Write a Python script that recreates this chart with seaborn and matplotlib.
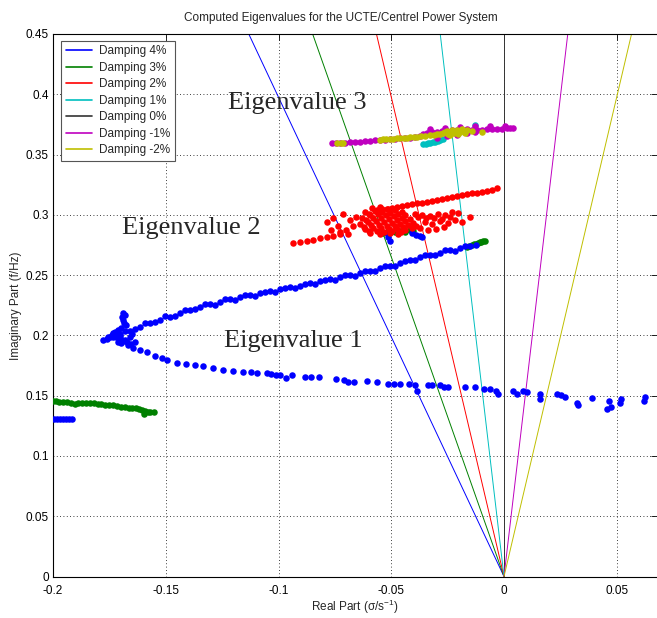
import matplotlib
matplotlib.use("Agg")
import numpy as np
import pandas as pd
import matplotlib.pyplot as plt
import seaborn as sns
from matplotlib.lines import Line2D

# ---------------- data ----------------
damping_pct = [4, 3, 2, 1, 0, -1, -2]
damping_labels = ["Damping %d%%" % d for d in damping_pct]
damping_colors = ["#0000ff", "#008000", "#ff0000", "#00bfbf", "#333333", "#bf00bf", "#bfbf00"]

# Eigenvalue 1 (blue trace)
blue_upper = [(-0.0125, 0.2750), (-0.0151, 0.2740), (-0.0195, 0.2722), (-0.0239, 0.2708), (-0.0284, 0.2685),
              (-0.0328, 0.2666), (-0.0373, 0.2647), (-0.0417, 0.2624), (-0.0461, 0.2597), (-0.0506, 0.2575),
              (-0.0550, 0.2556), (-0.0594, 0.2536), (-0.0639, 0.2514), (-0.0683, 0.2500), (-0.0727, 0.2481),
              (-0.0772, 0.2467), (-0.0816, 0.2450), (-0.0860, 0.2431), (-0.0905, 0.2409), (-0.0949, 0.2398),
              (-0.0993, 0.2381), (-0.1038, 0.2367), (-0.1082, 0.2348), (-0.1126, 0.2334), (-0.1171, 0.2320),
              (-0.1215, 0.2299), (-0.1259, 0.2279), (-0.1304, 0.2260), (-0.1348, 0.2237), (-0.1392, 0.2210),
              (-0.1437, 0.2187), (-0.1481, 0.2154), (-0.1525, 0.2127), (-0.1570, 0.2100), (-0.1614, 0.2071),
              (-0.1659, 0.2038), (-0.1703, 0.2011), (-0.1734, 0.1988),
              (-0.0173, 0.2742), (-0.0217, 0.2702), (-0.0262, 0.2705), (-0.0306, 0.2668), (-0.0350, 0.2663),
              (-0.0395, 0.2628), (-0.0439, 0.2620), (-0.0483, 0.2578), (-0.0528, 0.2572), (-0.0572, 0.2535),
              (-0.0616, 0.2533), (-0.0661, 0.2496), (-0.0705, 0.2497), (-0.0750, 0.2459), (-0.0794, 0.2462),
              (-0.0838, 0.2424), (-0.0882, 0.2428), (-0.0927, 0.2389), (-0.0971, 0.2396), (-0.1015, 0.2361),
              (-0.1060, 0.2364), (-0.1104, 0.2327), (-0.1148, 0.2336), (-0.1193, 0.2295), (-0.1237, 0.2302),
              (-0.1281, 0.2254), (-0.1326, 0.2263), (-0.1370, 0.2215), (-0.1414, 0.2213), (-0.1459, 0.2164),
              (-0.1503, 0.2158), (-0.1548, 0.2108), (-0.1592, 0.2104), (-0.1636, 0.2050), (-0.1681, 0.2036)]
blue_nose = [(-0.1778, 0.1961), (-0.1756, 0.1986), (-0.1734, 0.2019), (-0.1712, 0.2044), (-0.1690, 0.2127),
             (-0.1681, 0.2168), (-0.1690, 0.2182), (-0.1676, 0.2085), (-0.1703, 0.1994), (-0.1681, 0.1961),
             (-0.1659, 0.1986), (-0.1668, 0.1920), (-0.1636, 0.1945), (-0.1645, 0.1895), (-0.1614, 0.1878),
             (-0.1583, 0.1862), (-0.1548, 0.1828), (-0.1517, 0.1811), (-0.1495, 0.1794), (-0.1721, 0.1985),
             (-0.1712, 0.1947), (-0.1698, 0.1936), (-0.1725, 0.2027), (-0.1747, 0.1985), (-0.1700, 0.2060),
             (-0.1650, 0.2010), (-0.1760, 0.1970), (-0.1740, 0.2000), (-0.1720, 0.2010), (-0.1705, 0.1975),
             (-0.1690, 0.1955), (-0.1670, 0.1945), (-0.1655, 0.1925), (-0.1685, 0.2100), (-0.1695, 0.2150)]
blue_lower = [(-0.1452, 0.1768), (-0.1408, 0.1760), (-0.1370, 0.1754), (-0.1335, 0.1745), (-0.1290, 0.1729),
              (-0.1246, 0.1712), (-0.1202, 0.1706), (-0.1157, 0.1700), (-0.1123, 0.1696), (-0.1095, 0.1687),
              (-0.1051, 0.1687), (-0.1034, 0.1681), (-0.1009, 0.1674), (-0.0993, 0.1674), (-0.0967, 0.1648),
              (-0.0940, 0.1668), (-0.0882, 0.1654), (-0.0856, 0.1654), (-0.0820, 0.1654), (-0.0745, 0.1642),
              (-0.0710, 0.1633), (-0.0693, 0.1617), (-0.0667, 0.1617), (-0.0608, 0.1623), (-0.0565, 0.1617),
              (-0.0514, 0.1600), (-0.0489, 0.1600), (-0.0463, 0.1600), (-0.0421, 0.1596), (-0.0395, 0.1591),
              (-0.0386, 0.1538), (-0.0335, 0.1588), (-0.0319, 0.1588), (-0.0284, 0.1588), (-0.0266, 0.1571),
              (-0.0250, 0.1571), (-0.0173, 0.1571), (-0.0130, 0.1571), (-0.0089, 0.1555), (-0.0062, 0.1555),
              (-0.0036, 0.1538), (-0.0028, 0.1515), (0.0040, 0.1538), (0.0058, 0.1515), (0.0083, 0.1538),
              (0.0100, 0.1527), (0.0160, 0.1515), (0.0160, 0.1473), (0.0235, 0.1515), (0.0253, 0.1505),
              (0.0271, 0.1488), (0.0322, 0.1441), (0.0330, 0.1425), (0.0390, 0.1483), (0.0457, 0.1393),
              (0.0475, 0.1410), (0.0466, 0.1457), (0.0518, 0.1473), (0.0514, 0.1441), (0.0625, 0.1488),
              (0.0620, 0.1455)]
blue_other = [(-0.1996, 0.131), (-0.1982, 0.131), (-0.1969, 0.131), (-0.1956, 0.131), (-0.1942, 0.131),
              (-0.1929, 0.131), (-0.1916, 0.131),
              (-0.0519, 0.2848), (-0.0514, 0.2815), (-0.0506, 0.2782), (-0.0408, 0.2848), (-0.0390, 0.2832),
              (-0.0373, 0.2823), (-0.0364, 0.2815)]

green_pts = [(-0.0164, 0.2736), (-0.0142, 0.2749), (-0.0124, 0.2761), (-0.0106, 0.2774), (-0.0093, 0.2782),
             (-0.0153, 0.2742), (-0.0133, 0.2755), (-0.0115, 0.2768), (-0.0100, 0.2778), (-0.0085, 0.2786),
             (-0.0537, 0.2848), (-0.0514, 0.2865), (-0.0483, 0.2857), (-0.0461, 0.2865), (-0.0439, 0.2857),
             (-0.0417, 0.2873), (-0.0404, 0.2865),
             (-0.1998, 0.1458), (-0.1973, 0.1449), (-0.1938, 0.1449), (-0.1904, 0.1435), (-0.1870, 0.1442),
             (-0.1836, 0.1442), (-0.1802, 0.1432), (-0.1768, 0.1426), (-0.1734, 0.1420), (-0.1699, 0.1410),
             (-0.1665, 0.1400), (-0.1632, 0.1394), (-0.1605, 0.1378), (-0.1597, 0.1347), (-0.1580, 0.1364),
             (-0.1554, 0.1364), (-0.1985, 0.1453), (-0.1955, 0.1449), (-0.1921, 0.1442), (-0.1887, 0.1438),
             (-0.1853, 0.1442), (-0.1819, 0.1437), (-0.1785, 0.1429), (-0.1751, 0.1423), (-0.1716, 0.1415),
             (-0.1682, 0.1405), (-0.1648, 0.1397), (-0.1618, 0.1386), (-0.1590, 0.1370), (-0.1570, 0.1362)]

# Eigenvalue 2 (red)
red_pts = [(-0.0934, 0.2763), (-0.0905, 0.2771), (-0.0875, 0.2782), (-0.0846, 0.2790), (-0.0816, 0.2804),
           (-0.0786, 0.2813), (-0.0757, 0.2823), (-0.0727, 0.2840),
           (-0.0032, 0.3219), (-0.0077, 0.3199), (-0.0121, 0.3182), (-0.0165, 0.3172), (-0.0210, 0.3155),
           (-0.0254, 0.3136), (-0.0298, 0.3122), (-0.0343, 0.3108), (-0.0387, 0.3095), (-0.0431, 0.3081),
           (-0.0476, 0.3066), (-0.0520, 0.3051), (-0.0565, 0.3039),
           (-0.0055, 0.3208), (-0.0099, 0.3190), (-0.0143, 0.3177), (-0.0187, 0.3163), (-0.0232, 0.3145),
           (-0.0276, 0.3129), (-0.0320, 0.3115), (-0.0365, 0.3101), (-0.0409, 0.3088), (-0.0453, 0.3073),
           (-0.0498, 0.3058), (-0.0542, 0.3045),
           (-0.0616, 0.3022), (-0.0585, 0.3056), (-0.0550, 0.3064), (-0.0514, 0.3047), (-0.0483, 0.3039),
           (-0.0452, 0.3022),
           (-0.0630, 0.2973), (-0.0594, 0.2998), (-0.0559, 0.3006), (-0.0523, 0.2998), (-0.0488, 0.2989),
           (-0.0452, 0.2973), (-0.0417, 0.2965),
           (-0.0639, 0.2923), (-0.0603, 0.2940), (-0.0568, 0.2948), (-0.0532, 0.2940), (-0.0497, 0.2932),
           (-0.0461, 0.2923), (-0.0426, 0.2915), (-0.0390, 0.2907),
           (-0.0616, 0.2882), (-0.0581, 0.2890), (-0.0545, 0.2890), (-0.0510, 0.2882), (-0.0475, 0.2882),
           (-0.0439, 0.2873),
           (-0.0594, 0.2848), (-0.0550, 0.2840), (-0.0506, 0.2848), (-0.0470, 0.2840),
           (-0.0600, 0.3010), (-0.0570, 0.3030), (-0.0540, 0.3020), (-0.0505, 0.3015), (-0.0470, 0.3005),
           (-0.0440, 0.3000), (-0.0610, 0.2955), (-0.0580, 0.2970), (-0.0545, 0.2975), (-0.0510, 0.2965),
           (-0.0475, 0.2955), (-0.0440, 0.2945), (-0.0405, 0.2935), (-0.0620, 0.2900), (-0.0590, 0.2915),
           (-0.0555, 0.2918), (-0.0520, 0.2910), (-0.0485, 0.2905), (-0.0450, 0.2898), (-0.0410, 0.2890),
           (-0.0600, 0.2865), (-0.0565, 0.2865), (-0.0530, 0.2860), (-0.0495, 0.2862), (-0.0455, 0.2858),
           (-0.0785, 0.2940), (-0.0758, 0.2973), (-0.0736, 0.2907), (-0.0714, 0.3006), (-0.0701, 0.2873),
           (-0.0683, 0.2957), (-0.0670, 0.2907), (-0.0656, 0.2981), (-0.0767, 0.2873), (-0.0727, 0.2857),
           (-0.0692, 0.2840),
           (-0.0395, 0.3006), (-0.0364, 0.2998), (-0.0328, 0.2989), (-0.0293, 0.3006), (-0.0262, 0.2998),
           (-0.0231, 0.3022), (-0.0204, 0.3014), (-0.0350, 0.2940), (-0.0319, 0.2923), (-0.0284, 0.2948),
           (-0.0248, 0.2932), (-0.0217, 0.2957), (-0.0186, 0.2940), (-0.0373, 0.2890), (-0.0337, 0.2873),
           (-0.0302, 0.2882), (-0.0266, 0.2898), (-0.0151, 0.2981),
           (-0.0380, 0.2980), (-0.0345, 0.2970), (-0.0310, 0.2975), (-0.0275, 0.2965), (-0.0240, 0.2980)]

# Eigenvalue 3
magenta_pts = [(-0.0764, 0.3592), (-0.0727, 0.3597), (-0.0683, 0.3603), (-0.0639, 0.3605), (-0.0594, 0.3614),
               (-0.0550, 0.3619), (-0.0506, 0.3625), (-0.0461, 0.3634), (-0.0417, 0.3638), (-0.0373, 0.3653),
               (-0.0343, 0.3680), (-0.0298, 0.3688), (-0.0254, 0.3697), (-0.0210, 0.3702), (-0.0165, 0.3708),
               (-0.0121, 0.3702), (-0.0077, 0.3708), (-0.0032, 0.3713), (0.0012, 0.3719), (0.0041, 0.3721),
               (-0.0297, 0.3636), (-0.0253, 0.3653), (-0.0208, 0.3661), (-0.0164, 0.3678), (-0.0129, 0.3686),
               (-0.0328, 0.3715), (-0.0262, 0.3723), (-0.0195, 0.3731), (-0.0129, 0.3736), (-0.0062, 0.3740),
               (0.0004, 0.3740), (-0.0745, 0.3594), (-0.0705, 0.3600), (-0.0661, 0.3604), (-0.0616, 0.3610),
               (-0.0572, 0.3617), (-0.0528, 0.3622), (-0.0483, 0.3630), (-0.0439, 0.3636), (-0.0395, 0.3646),
               (-0.0358, 0.3668), (-0.0320, 0.3684), (-0.0276, 0.3692), (-0.0232, 0.3700), (-0.0187, 0.3705),
               (-0.0143, 0.3705), (-0.0099, 0.3705), (-0.0055, 0.3710), (-0.0010, 0.3716), (0.0025, 0.3720)]
cyan_pts = [(-0.0359, 0.3586), (-0.0337, 0.3595), (-0.0315, 0.3603), (-0.0293, 0.3611), (-0.0271, 0.3628),
            (-0.0348, 0.3590), (-0.0326, 0.3599), (-0.0304, 0.3607), (-0.0282, 0.3620), (-0.0129, 0.3744)]
yellow_pts = [(-0.0742, 0.3597), (-0.0713, 0.3597), (-0.0550, 0.3624), (-0.0523, 0.3628), (-0.0492, 0.3632),
              (-0.0461, 0.3636), (-0.0430, 0.3640), (-0.0399, 0.3644), (-0.0368, 0.3653), (-0.0328, 0.3661),
              (-0.0297, 0.3669), (-0.0271, 0.3678), (-0.0253, 0.3694), (-0.0231, 0.3702), (-0.0208, 0.3702),
              (-0.0186, 0.3711), (-0.0164, 0.3702), (-0.0142, 0.3694), (-0.0239, 0.3661), (-0.0204, 0.3669),
              (-0.0173, 0.3678), (-0.0099, 0.3688), (-0.0725, 0.3597), (-0.0535, 0.3626), (-0.0505, 0.3630),
              (-0.0475, 0.3634), (-0.0445, 0.3638), (-0.0415, 0.3642), (-0.0385, 0.3648), (-0.0350, 0.3657),
              (-0.0312, 0.3665), (-0.0285, 0.3673), (-0.0262, 0.3686), (-0.0220, 0.3690), (-0.0195, 0.3690),
              (-0.0175, 0.3695), (-0.0250, 0.3670), (-0.0220, 0.3675)]

x_ticks = [-0.2, -0.15, -0.1, -0.05, 0, 0.05]
x_ticklabels = ["-0.2", "-0.15", "-0.1", "-0.05", "0", "0.05"]
y_ticks = [0, 0.05, 0.1, 0.15, 0.2, 0.25, 0.3, 0.35, 0.4, 0.45]
y_ticklabels = ["0", "0.05", "0.1", "0.15", "0.2", "0.25", "0.3", "0.35", "0.4", "0.45"]

# ---------------- style ----------------
sns.set_theme(style="white")
plt.rcParams["font.family"] = ["Liberation Sans Narrow", "Liberation Sans", "DejaVu Sans"]
plt.rcParams["mathtext.fontset"] = "custom"
plt.rcParams["mathtext.rm"] = "Liberation Sans"
plt.rcParams["mathtext.it"] = "Liberation Sans"

fig = plt.figure(figsize=(6.57, 6.18), dpi=100)
fig.patch.set_facecolor("white")
ax = fig.add_axes([53 / 657, 41.5 / 618, 604 / 657, 542.5 / 618])
ax.set_facecolor("white")

# damping lines (constant damping ratio through origin: sigma = -zeta/sqrt(1-zeta^2) * 2*pi*f)
f_top = 0.5
rows = []
for d, lab in zip(damping_pct, damping_labels):
    z = d / 100.0
    sig = -z / np.sqrt(1 - z * z) * 2 * np.pi * f_top
    rows.append({"sigma": 0.0, "freq": 0.0, "label": lab})
    rows.append({"sigma": sig, "freq": f_top, "label": lab})
lines_df = pd.DataFrame(rows)
pal = dict(zip(damping_labels, damping_colors))
sns.lineplot(data=lines_df, x="sigma", y="freq", hue="label", palette=pal, sort=False,
             estimator=None, linewidth=0.7, ax=ax, legend=False, zorder=2)

def pts_df(pts):
    return pd.DataFrame(pts, columns=["sigma", "freq"])

msize = 22
for pts, col in [(green_pts, "#008000"), (blue_upper + blue_nose + blue_lower + blue_other, "#0000ff"),
                 (red_pts, "#ff0000"), (cyan_pts, "#00bfbf"), (magenta_pts, "#bf00bf"),
                 (yellow_pts, "#bfbf00")]:
    sns.scatterplot(data=pts_df(pts), x="sigma", y="freq", color=col, s=msize, marker="o",
                    linewidth=0, ax=ax, legend=False, zorder=3)

ax.set_xlim(-0.2, -0.2 + 604 / 2255)
ax.set_ylim(0, 0.45)
ax.set_xticks(x_ticks)
ax.set_xticklabels(x_ticklabels)
ax.set_yticks(y_ticks)
ax.set_yticklabels(y_ticklabels)
ax.tick_params(direction="in", top=True, right=True, length=4, width=0.6, labelsize=8.5,
               colors="black")
ax.tick_params(axis="x", pad=6)
ax.tick_params(axis="y", pad=3)
ax.grid(True, linestyle=(0, (1, 3)), color="black", linewidth=0.6)
ax.set_axisbelow(True)
for s in ["left", "bottom", "top"]:
    ax.spines[s].set_color("black")
    ax.spines[s].set_linewidth(0.8)
ax.spines["right"].set_visible(False)

ax.set_xlabel("Real Part (σ/s$^{-1}$)", fontsize=8.5, labelpad=1)
ax.set_ylabel("Imaginary Part (f/Hz)", fontsize=8.5, labelpad=3)

serif = ["Liberation Serif", "DejaVu Serif"]
ax.text(-0.1224, 0.3926, "Eigenvalue 3", family=serif, fontsize=19, va="center", ha="left", zorder=4)
ax.text(-0.1694, 0.2890, "Eigenvalue 2", family=serif, fontsize=19, va="center", ha="left", zorder=4)
ax.text(-0.1242, 0.1953, "Eigenvalue 1", family=serif, fontsize=19, va="center", ha="left", zorder=4)

fig.text(341 / 657, 1 - 18 / 618, "Computed Eigenvalues for the UCTE/Centrel Power System",
         ha="center", va="center", fontsize=8.5)

handles = [Line2D([0], [0], color=c, lw=1.2) for c in damping_colors]
leg = ax.legend(handles, damping_labels, loc="upper left", bbox_to_anchor=(0.013, 0.988),
                borderaxespad=0, fontsize=8.5, handlelength=2.2, handletextpad=0.6,
                labelspacing=0.38, borderpad=0.4, fancybox=False, framealpha=1, edgecolor="#555555")
leg.get_frame().set_linewidth(0.8)
leg.set_zorder(5)

fig.savefig("out.png", dpi=100)
